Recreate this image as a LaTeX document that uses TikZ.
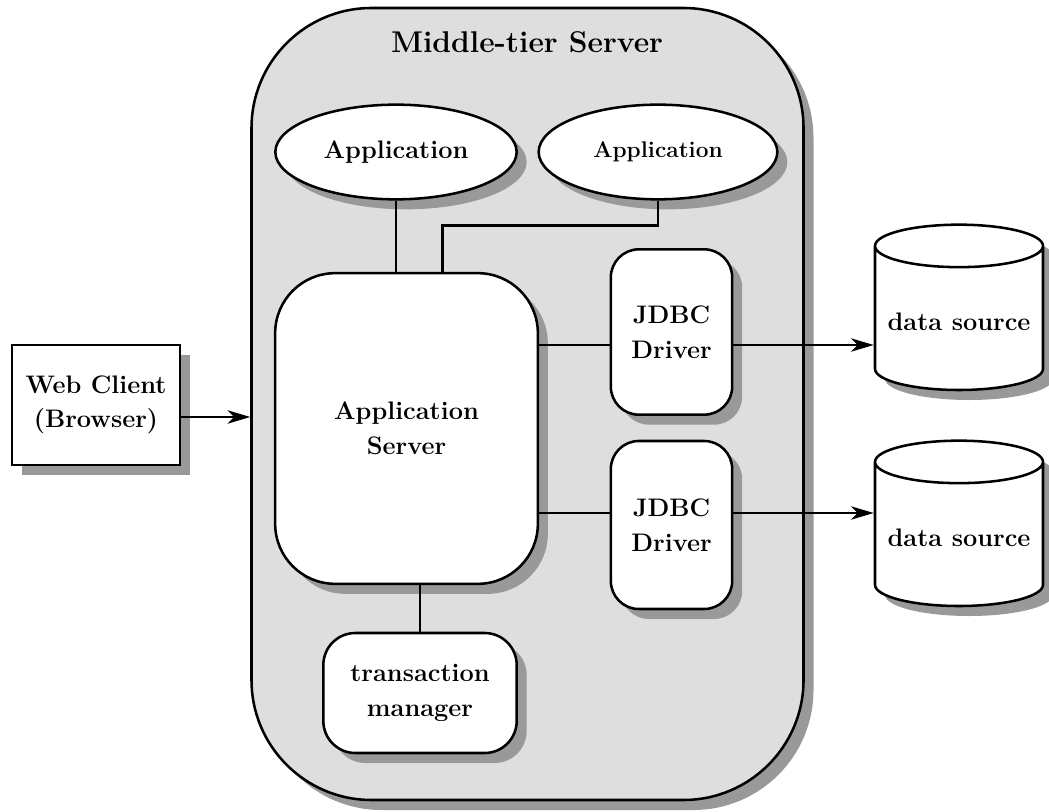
\documentclass[tikz,border=0pt]{standalone}
\usetikzlibrary{arrows.meta,shadows,shapes.geometric}
\definecolor{servergray}{gray}{.87}
\definecolor{shadowgray}{gray}{.6}

\begin{document}
\begin{tikzpicture}[x=.75pt, y=-.75pt, line width=1.9pt, >={Stealth[length=17pt,width=10pt,inset=5pt]}, font=\fontsize{19}{26}\selectfont\bfseries,]
   \tikzstyle{shadowed}=[drop shadow={shadow xshift=7.5pt, shadow yshift=-7.5pt, fill=shadowgray, opacity=1}]
   \tikzstyle{block}=[draw, fill=white, align=center, shadowed, rounded corners=21pt]
   \tikzstyle{app}=[draw, fill=white, ellipse, shadowed, minimum height=71pt]
   \tikzstyle{source}=[draw, fill=white, cylinder, shape border rotate=90, aspect=.28, minimum width=126pt, minimum height=124pt, shadowed]

   \useasboundingbox (0,0) rectangle (1049,812);

   \node[draw, fill=servergray, shadowed, rounded corners=90pt, minimum width=414pt, minimum height=594pt] (server) at (527.5,404) {};
   \node (title) at (527,42) {\fontsize{22.5}{26}\selectfont Middle-tier Server};

   \node[app, minimum width=181pt] (app_one) at (396,152) {Application};
   \node[app, minimum width=179pt, font=\fontsize{17}{20}\selectfont\bfseries] (app_two) at (658,152) {Application};
   \node[block, rounded corners=45pt, minimum width=197pt, minimum height=233pt] (app_server) at (406.5,428.5) {Application\\Server};
   \node[block, minimum width=91pt, minimum height=124pt] (jdbc_one) at (671.5,332) {JDBC\\Driver};
   \node[block, minimum width=91pt, minimum height=126pt] (jdbc_two) at (671.5,525) {JDBC\\Driver};
   \node[block, rounded corners=24pt, minimum width=145pt, minimum height=90pt] (manager) at (420,693) {transaction\\manager};
   \node[block, rounded corners=0pt, minimum width=126pt, minimum height=90pt] (client) at (96,405) {Web Client\\(Browser)};
   \node[source] (source_one) at (959,322) {data source};
   \node[source] (source_two) at (959,538) {data source};

   \coordinate (client_out) at ([yshift=-9pt]client.east);
   \coordinate (jdbc_one_out) at ([yshift=-9.75pt]jdbc_one.east);
   \coordinate (jdbc_two_out) at ([yshift=9pt]jdbc_two.east);
   \coordinate (app_two_in) at ([xshift=27pt]app_server.north);

   \path
  (client_out)
    edge [->] (client_out -| server.west)
  (app_one.south)
    edge [] (app_one.south |- app_server.north)
  (manager.north)
    edge [] (manager.north |- app_server.south)
  (jdbc_one_out -| app_server.east)
    edge [] (jdbc_one_out -| jdbc_one.west)
  (jdbc_two_out -| app_server.east)
    edge [] (jdbc_two_out -| jdbc_two.west)
  (jdbc_one_out)
    edge [->] (jdbc_one_out -| source_one.west)
  (jdbc_two_out)
    edge [->] (jdbc_two_out -| source_two.west)
   ;
   \draw (app_two.south) -- ++(0,25) -| (app_two_in);
\end{tikzpicture}
\end{document}
